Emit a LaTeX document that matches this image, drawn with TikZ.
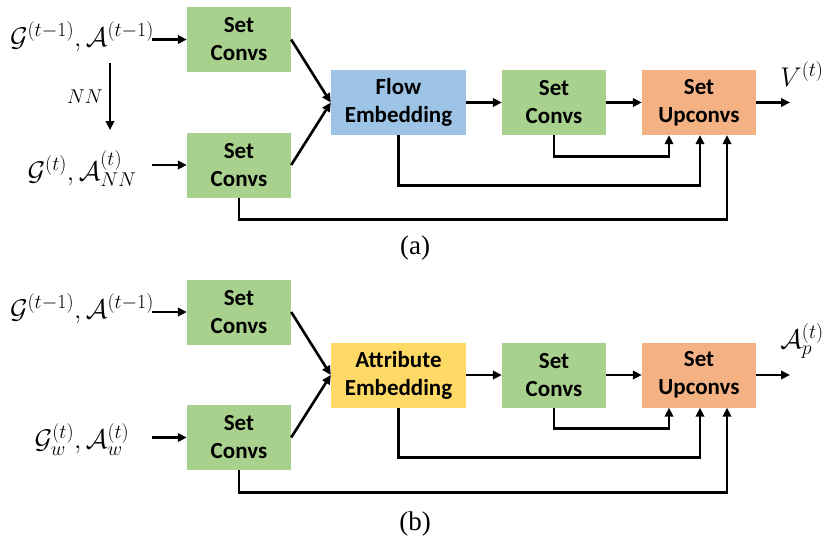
\documentclass[tikz,border=0pt]{standalone}
\usepackage{fix-cm}
\usepackage{fontspec}
\newfontfamily\boxfont{Carlito}
\newfontfamily\capfont{Liberation Serif}
\usetikzlibrary{arrows.meta}
\DeclareMathSizes{27}{27}{20}{15}
\definecolor{cgreen}{HTML}{A9D18E}
\definecolor{cblue}{HTML}{9DC3E6}
\definecolor{corange}{HTML}{F4B183}
\definecolor{cyellow}{HTML}{FFD966}
\begin{document}
\begin{tikzpicture}[x=1pt,y=-1pt,
  blk/.style={rectangle,inner sep=0pt,minimum height=65pt,align=center,
    font=\boxfont\bfseries\fontsize{23}{28}\selectfont},
  nbox/.style={blk,minimum width=104pt},
  mbox/.style={blk,minimum width=135pt},
  wbox/.style={blk,minimum width=114pt},
  mathlbl/.style={inner sep=0pt,font=\fontsize{27}{32}\selectfont},
  smalllbl/.style={inner sep=0pt,font=\fontsize{20}{24}\selectfont},
  captxt/.style={inner sep=0pt,font=\capfont\fontsize{27}{32}\selectfont},
  conn/.style={line width=2.6pt,-{Triangle[length=9pt,width=8.5pt]}}]
\useasboundingbox (0,0) rectangle (830,542);

% ---------- panel (a) ----------
\node[nbox,fill=cgreen] (a1) at (239,39.5) {Set\\Convs};
\node[nbox,fill=cgreen] (a2) at (239,165) {Set\\Convs};
\node[mbox,fill=cblue] (afe) at (398.5,102.5) {Flow\\Embedding};
\node[nbox,fill=cgreen] (a3) at (554,102.5) {Set\\Convs};
\node[wbox,fill=corange] (aup) at (699,102.5) {Set\\Upconvs};
\node[mathlbl] (ain1) at (82,36.5) {$\mathcal{G}^{(t-1)},\mathcal{A}^{(t-1)}$};
\node[mathlbl] (ain2) at (82,168.5) {$\mathcal{G}^{(t)},\mathcal{A}^{(t)}_{NN}$};
\node[smalllbl] (ann) at (85,97) {$NN$};
\node[mathlbl] (aout) at (802,74) {$V^{(t)}$};
\node[captxt] (acap) at (415,248) {(a)};
\coordinate (ann1) at (110,63);
\coordinate (ann2) at (110,130);
\coordinate (as1) at (152,39.5);
\coordinate (as2) at (152,165);
\coordinate (aend) at (790,102.5);

\draw[conn] (ann1) -- (ann2);
\draw[conn] (as1) -- (a1.west);
\draw[conn] (as2) -- (a2.west);
\draw[conn] (a1.east) -- (afe.west);
\draw[conn] (a2.east) -- (afe.west);
\draw[conn] (afe.east) -- (a3.west);
\draw[conn] (a3.east) -- (aup.west);
\draw[conn] (aup.east) -- (aend);
\draw[conn] (a3.south) -- ++(0,21) -| ([xshift=-30pt]aup.south);
\draw[conn] (afe.south) -- ++(0,50) -| ([xshift=1pt]aup.south);
\draw[conn] (a2.south) -- ++(0,22) -| ([xshift=28pt]aup.south);

% ---------- panel (b) ----------
\begin{scope}[yshift=-272.5pt]
\node[nbox,fill=cgreen] (b1) at (239,39.5) {Set\\Convs};
\node[nbox,fill=cgreen] (b2) at (239,165) {Set\\Convs};
\node[mbox,fill=cyellow] (bfe) at (398.5,102.5) {Attribute\\Embedding};
\node[nbox,fill=cgreen] (b3) at (554,102.5) {Set\\Convs};
\node[wbox,fill=corange] (bup) at (699,102.5) {Set\\Upconvs};
\node[mathlbl] (bin1) at (82,36.5) {$\mathcal{G}^{(t-1)},\mathcal{A}^{(t-1)}$};
\node[mathlbl] (bin2) at (82,167) {$\mathcal{G}^{(t)}_{w},\mathcal{A}^{(t)}_{w}$};
\node[mathlbl] (bout) at (802,68.5) {$\mathcal{A}^{(t)}_{p}$};
\node[captxt] (bcap) at (415,251.5) {(b)};
\coordinate (bs1) at (152,39.5);
\coordinate (bs2) at (152,165);
\coordinate (bend) at (790,102.5);

\draw[conn] (bs1) -- (b1.west);
\draw[conn] (bs2) -- (b2.west);
\draw[conn] (b1.east) -- (bfe.west);
\draw[conn] (b2.east) -- (bfe.west);
\draw[conn] (bfe.east) -- (b3.west);
\draw[conn] (b3.east) -- (bup.west);
\draw[conn] (bup.east) -- (bend);
\draw[conn] (b3.south) -- ++(0,21) -| ([xshift=-30pt]bup.south);
\draw[conn] (bfe.south) -- ++(0,50) -| ([xshift=1pt]bup.south);
\draw[conn] (b2.south) -- ++(0,22) -| ([xshift=28pt]bup.south);
\end{scope}
\end{tikzpicture}
\end{document}
